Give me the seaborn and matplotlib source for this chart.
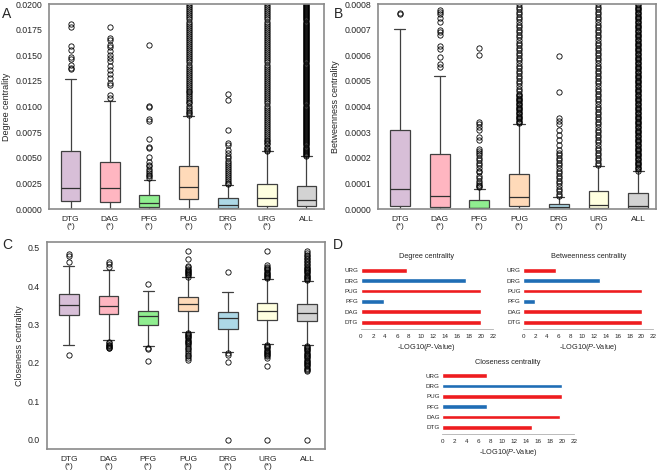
import numpy as np
import pandas as pd
import matplotlib
matplotlib.use('Agg')
import matplotlib.pyplot as plt
import seaborn as sns

# ---------------- data ----------------
groups = ['DTG', 'DAG', 'PFG', 'PUG', 'DRG', 'URG', 'ALL']
group_labels = ['DTG\n(*)', 'DAG\n(*)', 'PFG\n(*)', 'PUG\n(*)', 'DRG\n(*)', 'URG\n(*)', 'ALL']
box_colors = ['thistle', 'lightpink', 'lightgreen', 'peachpuff', 'lightblue', 'lightyellow', 'lightgray']

# A: degree centrality (units of 1e-4)
deg_lo = [0, 0, 0, 0, 0, 0, 0]
deg_q1 = [7.8, 7.1, 2.3, 9.7, 1.3, 3.2, 2.6]
deg_med = [20.5, 20.5, 5.8, 21.1, 3.9, 10.4, 8.8]
deg_q3 = [56.5, 46.1, 13.3, 42.2, 10.4, 24.7, 22.4]
deg_hi = [126.6, 105.8, 28.6, 90.3, 23.7, 56.2, 51.3]
deg_fliers = [
    [137, 138, 141, 146, 148, 155, 159, 178, 181],
    [108, 111, 121, 123, 128, 132, 136, 140, 144, 147, 150, 154, 158, 160, 165, 167, 178],
    [30, 32, 33, 35, 37, 39, 42, 43, 46, 51, 60, 61, 68, 86, 88, 100, 101, 160],
    [92, 94, 95, 97, 99, 101, 103, 104, 106, 108, 110, 112, 114, 115, 117, 119, 121, 123, 125,
     127, 129, 131, 133, 135, 137, 139, 141, 143, 145, 147, 149, 151, 153, 155, 157, 159, 161,
     163, 165, 167, 169, 171, 173, 175, 177, 179, 181, 183, 185, 187, 189, 191, 193, 195, 197,
     199, 201, 204],
    [24, 25, 27, 29, 31, 33, 35, 37, 39, 41, 43, 45, 47, 50, 52, 55, 58, 62, 64, 77, 106, 112],
    [57, 58, 60, 61, 63, 64, 66, 67, 69, 71, 73, 75, 77, 79, 81, 83, 85, 87, 89, 91, 93, 95, 97,
     99, 101, 103, 105, 107, 109, 111, 113, 115, 117, 119, 121, 123, 125, 127, 129, 131, 133,
     135, 137, 139, 141, 143, 145, 147, 149, 151, 153, 155, 157, 159, 161, 163, 165, 167, 169,
     171, 173, 175, 177, 179, 181, 183, 185, 187, 189, 191, 193, 195, 197, 199, 201, 204],
    [52, 53, 54, 55, 56, 57, 58, 59, 60, 61, 62, 63, 64, 65, 66, 67, 68, 69, 70, 71, 72, 73, 74,
     75, 76, 77, 78, 79, 80, 81, 82, 83, 84, 85, 86, 87, 88, 89, 90, 91, 92, 93, 94, 95, 96, 97,
     98, 99, 100, 101, 102, 103, 104, 105, 106, 107, 108, 109, 110, 111, 112, 113, 114, 115, 116,
     117, 118, 119, 120, 121, 122, 123, 124, 125, 126, 127, 128, 129, 130, 131, 132, 133, 134,
     135, 136, 137, 138, 139, 140, 141, 142, 143, 144, 145, 146, 147, 148, 149, 150, 151, 152,
     153, 154, 155, 156, 157, 158, 159, 160, 161, 162, 163, 164, 165, 166, 167, 168, 169, 170,
     171, 172, 173, 174, 175, 176, 177, 178, 179, 180, 181, 182, 183, 184, 185, 186, 187, 188,
     189, 190, 191, 192, 193, 194, 195, 196, 197, 198, 199, 200, 201, 202, 203, 204, 205],
]

# B: betweenness centrality (units of 1e-5)
btw_lo = [0, 0, 0, 0, 0, 0, 0]
btw_q1 = [1.2, 0.8, 0.26, 1.2, 0.13, 0.26, 0.26]
btw_med = [7.75, 5.2, 0.5, 4.5, 0.6, 1.4, 1.0]
btw_q3 = [30.9, 21.6, 3.4, 13.8, 1.9, 7.0, 6.1]
btw_hi = [70.2, 52.0, 7.75, 33.0, 4.5, 16.8, 14.7]
btw_fliers = [
    [76.0, 76.7],
    [55.5, 56.5, 59.5, 62.5, 63.5, 68, 69, 70, 73, 74.5, 76, 77, 77.8],
    [8.5, 9, 9.5, 10, 11, 12, 13, 14.5, 15, 16, 17, 18, 19, 20, 21, 22, 22.5, 23.5, 27, 28, 31,
     32, 33, 33.8, 60.3, 62.8],
    [33.5, 34, 34.5, 35, 35.5, 36, 36.5, 37, 37.5, 38, 38.5, 39, 39.5, 40, 40.5, 41, 41.5, 42,
     42.5, 43, 43.5, 44, 44.5, 45, 46, 47, 48, 49, 50, 51, 52, 53, 54, 55, 56, 57, 58, 59, 60,
     61, 62, 63, 64, 65, 66, 67, 68, 69, 70, 71, 72, 73, 74, 75, 76, 77, 78, 79, 80],
    [5, 6, 7, 8, 9, 10, 11, 12, 13, 14, 15, 16, 17, 18, 19, 20, 21, 22, 23, 25, 27, 29, 31, 33,
     34.5, 35.5, 45.5, 59.7],
    [17, 18, 19, 20, 21, 22, 23, 24, 25, 26, 27, 28, 29, 30, 31, 32, 33, 34, 35, 36, 37, 38, 39,
     40, 41, 42, 43, 44, 45, 46, 47, 48, 49, 50, 51, 52, 53, 54, 55, 56, 57, 58, 59, 60, 61, 62,
     63, 64, 65, 66, 67, 68, 69, 70, 71, 72, 73, 74, 75, 76, 77, 78, 79, 80],
    [15, 15.5, 16, 16.5, 17, 17.5, 18, 18.5, 19, 19.5, 20, 20.5, 21, 21.5, 22, 22.5, 23, 23.5,
     24, 24.5, 25, 25.5, 26, 26.5, 27, 27.5, 28, 28.5, 29, 29.5, 30, 30.5, 31, 31.5, 32, 32.5,
     33, 33.5, 34, 34.5, 35, 35.5, 36, 36.5, 37, 37.5, 38, 38.5, 39, 39.5, 40, 40.5, 41, 41.5,
     42, 42.5, 43, 43.5, 44, 44.5, 45, 45.5, 46, 46.5, 47, 47.5, 48, 48.5, 49, 49.5, 50, 50.5,
     51, 51.5, 52, 52.5, 53, 53.5, 54, 54.5, 55, 55.5, 56, 56.5, 57, 57.5, 58, 58.5, 59, 59.5,
     60, 60.5, 61, 61.5, 62, 62.5, 63, 63.5, 64, 64.5, 65, 65.5, 66, 66.5, 67, 67.5, 68, 68.5,
     69, 69.5, 70, 70.5, 71, 71.5, 72, 72.5, 73, 73.5, 74, 74.5, 75, 75.5, 76, 76.5, 77, 77.5,
     78, 78.5, 79, 79.5, 80],
]

# C: closeness centrality (units of 1e-3)
clo_lo = [248, 259.5, 245, 279.5, 227.5, 249, 246.5]
clo_q1 = [324, 326.5, 298, 334.4, 289, 312, 308]
clo_med = [350, 348, 322, 352.6, 317, 335, 331]
clo_q3 = [378.6, 374, 336, 371, 332, 355, 352.6]
clo_hi = [453, 442, 388, 423.7, 385.5, 418, 413]
clo_fliers = [
    [221, 462, 477.5, 483],
    [238, 240, 242, 244, 246, 248, 251, 254, 451, 457, 463],
    [205.7, 235.4, 239.6, 404.7],
    [207, 212, 217, 222, 226, 231, 236, 240, 245, 249, 252, 255, 258, 261, 264, 267, 270, 273,
     276, 279, 425, 428, 431, 434, 437, 440, 443, 446, 449, 452, 472, 491],
    [0, 201.6, 221, 225, 437.5],
    [0, 193, 212, 218, 220, 223, 226, 229, 232, 235, 238, 241, 244, 247, 420, 423, 426, 429,
     432, 435, 438, 441, 444, 447, 450, 454, 491],
    [0, 178, 182, 185, 188, 191, 194, 197, 200, 203, 206, 209, 212, 215, 218, 221, 224, 227, 230,
     233, 236, 239, 242, 245, 415, 418, 421, 424, 427, 430, 433, 436, 439, 442, 445, 448, 451,
     454, 458, 462, 466, 470, 474, 478, 482, 486, 491],
]

# D: -log10(P) for each group, listed from top to bottom
pval_groups = ['URG', 'DRG', 'PUG', 'PFG', 'DAG', 'DTG']
pval_colors = ['#ee1c1f', '#1f6db5', '#ee1c1f', '#1f6db5', '#ee1c1f', '#ee1c1f']
degree_logp = [7.7, 17.5, 20.0, 3.9, 20.0, 20.0]
betweenness_logp = [5.5, 13.0, 20.0, 1.9, 20.0, 20.0]
closeness_logp = [7.4, 20.0, 20.0, 7.5, 19.7, 15.0]

# ---------------- style ----------------
sns.set_style('white')
plt.rcParams['font.family'] = ['Liberation Sans', 'DejaVu Sans']
plt.rcParams['mathtext.fontset'] = 'custom'
plt.rcParams['mathtext.rm'] = 'Liberation Sans'
plt.rcParams['mathtext.it'] = 'Liberation Sans:italic'

fig = plt.figure(figsize=(6.58, 4.70), dpi=100)


def make_stats(lo, q1, med, q3, hi, fliers, scale):
    stats = []
    for i in range(len(groups)):
        stats.append(dict(whislo=lo[i] * scale, q1=q1[i] * scale, med=med[i] * scale,
                          q3=q3[i] * scale, whishi=hi[i] * scale,
                          fliers=np.array(fliers[i], dtype=float) * scale))
    return stats


def draw_boxes(ax, stats, ylabel, yticks, fmt, ylim):
    bp = ax.bxp(stats, positions=range(len(groups)), widths=0.5, capwidths=0.28,
                patch_artist=True,
                boxprops=dict(edgecolor='#404040', linewidth=0.9),
                medianprops=dict(color='#303030', linewidth=0.9),
                whiskerprops=dict(color='#404040', linewidth=0.9),
                capprops=dict(color='#404040', linewidth=0.9),
                flierprops=dict(marker='o', markerfacecolor='none', markeredgecolor='black',
                                markersize=3.8, markeredgewidth=0.6))
    for patch, c in zip(bp['boxes'], box_colors):
        patch.set_facecolor(c)
    ax.set_xlim(-0.55, 6.45)
    ax.set_ylim(*ylim)
    ax.set_xticks(range(len(groups)))
    ax.set_xticklabels(group_labels, fontsize=6, linespacing=0.95)
    ax.set_yticks(yticks)
    ax.set_yticklabels([fmt.format(v) for v in yticks], fontsize=6.3)
    ax.set_ylabel(ylabel, fontsize=6.5, labelpad=3)
    ax.tick_params(axis='both', length=3, width=0.7, color='#404040', pad=2)
    for sp in ax.spines.values():
        sp.set_color('#8a8a8a')
        sp.set_linewidth(1.2)


axA = fig.add_axes([0.0745, 0.5553, 0.418, 0.436])
draw_boxes(axA, make_stats(deg_lo, deg_q1, deg_med, deg_q3, deg_hi, deg_fliers, 1e-4),
           'Degree centrality', [0.0025 * i for i in range(9)], '{:.4f}', (0, 0.02))

axB = fig.add_axes([0.5745, 0.5553, 0.4225, 0.436])
draw_boxes(axB, make_stats(btw_lo, btw_q1, btw_med, btw_q3, btw_hi, btw_fliers, 1e-5),
           'Betweenness centrality', [0.0001 * i for i in range(9)], '{:.4f}', (0, 0.0008))

axC = fig.add_axes([0.0714, 0.0447, 0.4225, 0.4404])
draw_boxes(axC, make_stats(clo_lo, clo_q1, clo_med, clo_q3, clo_hi, clo_fliers, 1e-3),
           'Closeness centrality', [0.1 * i for i in range(6)], '{:.1f}', (-0.024, 0.515))


def draw_pvals(rect, values, title):
    ax = fig.add_axes(rect)
    df = pd.DataFrame({'group': pval_groups, 'logp': values})
    sns.barplot(data=df, x='logp', y='group', hue='group', palette=pval_colors, legend=False,
                orient='h', width=0.45, saturation=1, ax=ax)
    ax.set_xlim(0, 22)
    ax.set_ylim(5.65, -0.35)
    ax.set_xticks(range(0, 23, 2))
    ax.tick_params(axis='x', labelsize=4.5, length=2, width=0.5, color='#a0a0a0', pad=1.5)
    ax.tick_params(axis='y', labelsize=4.5, length=0, pad=2)
    ax.set_ylabel('')
    ax.set_xlabel('-LOG10($\\mathit{P}$-Value)', fontsize=5.3, labelpad=2)
    ax.set_title(title, fontsize=5.3, pad=6)
    for s in ['top', 'right', 'left']:
        ax.spines[s].set_visible(False)
    ax.spines['bottom'].set_color('#b0b0b0')
    ax.spines['bottom'].set_linewidth(0.6)
    return ax


draw_pvals([0.5486, 0.30, 0.2002, 0.1328], degree_logp, 'Degree centrality')
draw_pvals([0.7953, 0.30, 0.1976, 0.1328], betweenness_logp, 'Betweenness centrality')
draw_pvals([0.6722, 0.0766, 0.2002, 0.132], closeness_logp, 'Closeness centrality')

# panel letters
fig.text(0.003, 0.985, 'A', fontsize=10, va='top')
fig.text(0.507, 0.985, 'B', fontsize=10, va='top')
fig.text(0.003, 0.493, 'C', fontsize=10, va='top')
fig.text(0.506, 0.493, 'D', fontsize=10, va='top')

fig.savefig('out.png', dpi=100)
